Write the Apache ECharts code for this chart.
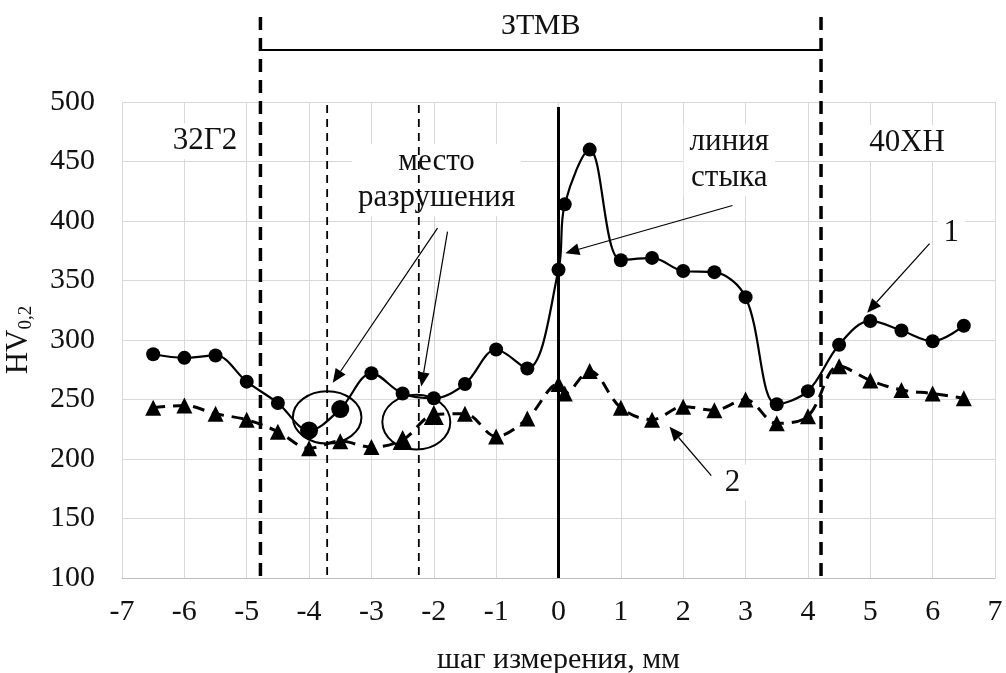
<!DOCTYPE html>
<html>
<head>
<meta charset="utf-8">
<script src="https://cdn.jsdelivr.net/npm/echarts@6/dist/echarts.min.js"></script>
<style>
html,body{margin:0;padding:0;background:#fff;}
#chart{width:1006px;height:673px;}
</style>
</head>
<body>
<div id="chart"></div>
<script>
// Series 1 (circles, solid line)
const x1 = [-6.5,-6,-5.5,-5,-4.5,-4,-3.5,-3,-2.5,-2,-1.5,-1,-0.5,0,0.1,0.5,1,1.5,2,2.5,3,3.5,4,4.5,5,5.5,6,6.5];
const y1 = [288,285,287,265,247,224,242,272,255,251,263,292,276,359,414,460,367,369,358,357,336,246,257,296,316,308,299,312];
// Series 2 (triangles, dashed line)
const x2 = [-6.5,-6,-5.5,-5,-4.5,-4,-3.5,-3,-2.5,-2,-1.5,-1,-0.5,0,0.1,0.5,1,1.5,2,2.5,3,3.5,4,4.5,5,5.5,6,6.5];
const y2 = [243,245,238,233,223,209,215,210,216,237,238,219,234,263,255,274,243,233,244,241,250,230,236,278,266,258,255,251];

// points drawn with enlarged markers (failure locations)
const bigX1 = [-4, -3.5];
const bigX2 = [-2.5, -2];

const xTicks = [-7,-6,-5,-4,-3,-2,-1,0,1,2,3,4,5,6,7];
const yTicks = [100,150,200,250,300,350,400,450,500];

// annotation positions (data coordinates)
const zoneBounds = [-4.78, 4.21];
const failLines = [-3.71, -2.24];
const jointLine = 0;
const ellipses = [
  {x:-3.71, y:235, rx:0.55, ry:22},
  {x:-2.28, y:231, rx:0.545, ry:23}
];
const arrows = [
  {from:[-1.94, 394], to:[-3.62, 264]},
  {from:[-1.78, 391], to:[-2.20, 261]},
  {from:[2.79, 413], to:[0.11, 373]},
  {from:[5.95, 381], to:[4.95, 323]},
  {from:[2.45, 186], to:[1.78, 227]}
];
const labels = [
  {x:-5.67, y:467, text:'32Г2'},
  {x:-1.955, y:434.5, text:'место\nразрушения'},
  {x:2.74, y:451, text:'линия\nстыка'},
  {x:5.59, y:465.5, text:'40ХН'},
  {x:6.3, y:390, text:'1'},
  {x:2.79, y:180, text:'2'}
];

function toData(arrX, arrY){ return arrX.map((v,i)=>[v, arrY[i]]); }

const chart = echarts.init(document.getElementById('chart'));
const FONT = 'Liberation Serif';
chart.setOption({
  animation:false,
  backgroundColor:'#fff',
  grid:{left:122, right:11, top:102, bottom:95, containLabel:false, outerBoundsMode:'none'},
  xAxis:{
    type:'value', min:-7, max:7, interval:1,
    axisLine:{show:true, onZero:false, lineStyle:{color:'#bfbfbf', width:1}},
    axisTick:{show:false},
    splitLine:{show:true, lineStyle:{color:'#d9d9d9', width:1}},
    axisLabel:{fontFamily:FONT, fontSize:30, color:'#111', margin:19,
      formatter:v=> xTicks.includes(v) ? String(v) : ''},
    name:'шаг измерения, мм', nameLocation:'middle', nameGap:67,
    nameTextStyle:{fontFamily:FONT, fontSize:30, color:'#111'}
  },
  yAxis:{
    type:'value', min:100, max:500, interval:50,
    axisLine:{show:false}, axisTick:{show:false},
    splitLine:{show:true, lineStyle:{color:'#d9d9d9', width:1}},
    axisLabel:{fontFamily:FONT, fontSize:30, color:'#111', margin:27,
      formatter:v=> yTicks.includes(v) ? String(v) : ''},
    name:'{a|HV}{s|0,2}', nameLocation:'middle', nameGap:86, nameRotate:90,
    nameTextStyle:{fontFamily:FONT, color:'#111',
      rich:{a:{fontFamily:FONT, fontSize:31, lineHeight:34, color:'#111'},
            s:{fontFamily:FONT, fontSize:19, lineHeight:19, verticalAlign:'bottom', padding:[12,0,0,0], color:'#111'}}}
  },
  series:[
    {type:'line', name:'1', data:toData(x1,y1), smooth:0.35,
      symbol:'circle', symbolSize:(val)=> bigX1.includes(val[0]) ? 18 : 14,
      itemStyle:{color:'#000'},
      lineStyle:{color:'#000', width:2.2}, z:5},
    {type:'line', name:'2', data:toData(x2,y2), smooth:0.35,
      symbol:'triangle', symbolSize:(val)=> bigX2.includes(val[0]) ? 20 : 16,
      itemStyle:{color:'#000'},
      lineStyle:{color:'#000', width:3, type:[12,8]}, z:4}
  ]
});

function px(x,y){ return chart.convertToPixel({gridIndex:0},[x,y]); }
const g = [];
const bottomY = px(0,100)[1];
const topY = px(0,500)[1];
// zone boundaries (extend above plot)
zoneBounds.forEach(v=>{
  const p = px(v,100);
  g.push({type:'line', shape:{x1:p[0], y1:topY-85, x2:p[0], y2:bottomY+2},
    style:{stroke:'#000', lineWidth:3.5, lineDash:[13,8]}, z:10});
});
// bracket
{
  const a = px(zoneBounds[0],500), b = px(zoneBounds[1],500);
  g.push({type:'line', shape:{x1:a[0], y1:topY-52, x2:b[0], y2:topY-52}, style:{stroke:'#000', lineWidth:2}, z:10});
  g.push({type:'text', x:(a[0]+b[0])/2, y:topY-76, style:{text:'ЗТМВ', font:'30px "Liberation Serif"', fill:'#111', align:'center', verticalAlign:'middle'}, z:10});
}
// failure lines
failLines.forEach(v=>{
  const p = px(v,100);
  g.push({type:'line', shape:{x1:p[0], y1:topY+3, x2:p[0], y2:bottomY}, style:{stroke:'#000', lineWidth:1.8, lineDash:[8,6]}, z:10});
});
// joint line
{
  const p = px(jointLine,100);
  g.push({type:'line', shape:{x1:p[0], y1:topY+5, x2:p[0], y2:bottomY}, style:{stroke:'#000', lineWidth:3}, z:10});
}
// ellipses
ellipses.forEach(e=>{
  const c = px(e.x,e.y);
  const r = px(e.x+e.rx, e.y+e.ry);
  g.push({type:'ellipse', shape:{cx:c[0], cy:c[1], rx:Math.abs(r[0]-c[0]), ry:Math.abs(c[1]-r[1])},
    style:{stroke:'#000', fill:null, lineWidth:2}, z:10});
});
// arrows
arrows.forEach(a=>{
  const f = px(a.from[0],a.from[1]), t = px(a.to[0],a.to[1]);
  const dx=t[0]-f[0], dy=t[1]-f[1], L=Math.hypot(dx,dy), ux=dx/L, uy=dy/L;
  const hl=14, hw=6;
  const bx=t[0]-ux*hl, by=t[1]-uy*hl;
  g.push({type:'line', shape:{x1:f[0], y1:f[1], x2:bx, y2:by}, style:{stroke:'#000', lineWidth:1.2}, z:11});
  g.push({type:'polygon', shape:{points:[[t[0],t[1]],[bx-uy*hw, by+ux*hw],[bx+uy*hw, by-ux*hw]]}, style:{fill:'#000'}, z:11});
});
// text labels with white background
labels.forEach(l=>{
  const p = px(l.x,l.y);
  g.push({type:'text', x:p[0], y:p[1], style:{text:l.text, font:'31px "Liberation Serif"', fill:'#111', align:'center', verticalAlign:'middle', lineHeight:36, backgroundColor:'#fff', padding:[0,6]}, z:9});
});
chart.setOption({graphic:g});
</script>
</body>
</html>
